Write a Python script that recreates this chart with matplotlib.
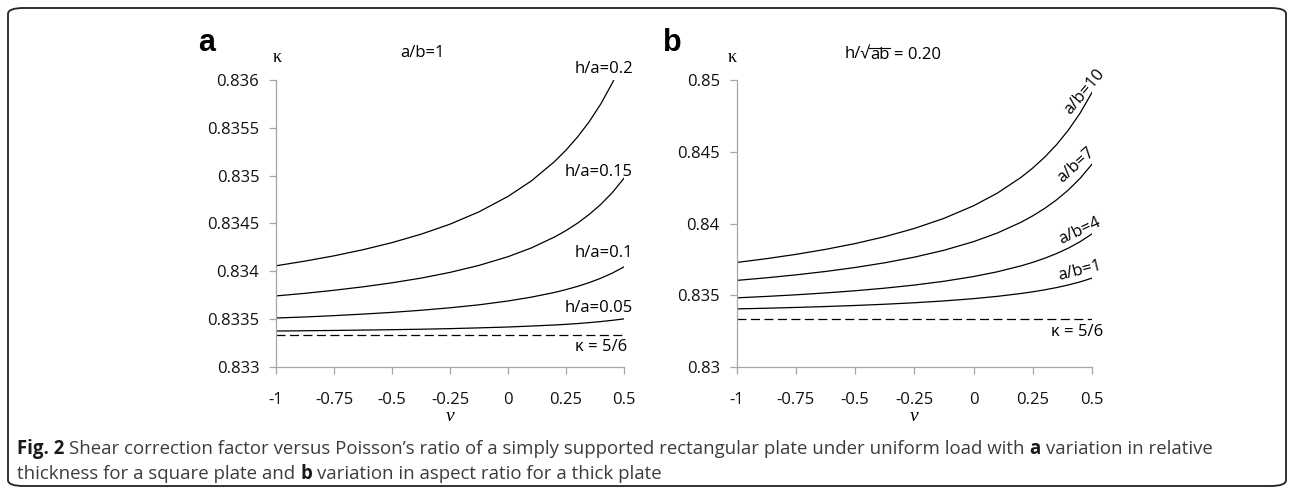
"""Shear correction factor versus Poisson's ratio, two-panel figure (Fig. 2)."""

import matplotlib

matplotlib.use("Agg")
import matplotlib.pyplot as plt
from matplotlib.lines import Line2D
from matplotlib.patches import FancyBboxPatch

plt.rcParams["font.family"] = ["Open Sans", "DejaVu Sans"]
plt.rcParams["lines.scale_dashes"] = False

# Poisson's ratio samples
NU = [-1.0, -0.875, -0.75, -0.625, -0.5, -0.375, -0.25, -0.125, 0.0,
      0.1, 0.2, 0.25, 0.3, 0.35, 0.4, 0.45, 0.5]

# panel a: a/b = 1, varying h/a
HA_LABELS = ["h/a=0.2", "h/a=0.15", "h/a=0.1", "h/a=0.05"]
KAPPA_HA_020 = [0.834058, 0.834107, 0.834162, 0.834226, 0.834300, 0.834388,
                0.834493, 0.834622, 0.834783, 0.834944, 0.835146, 0.835267,
                0.835405, 0.835564, 0.835750, 0.835970, 0.836233]
KAPPA_HA_015 = [0.833743, 0.833770, 0.833802, 0.833838, 0.833880, 0.833929,
                0.833989, 0.834062, 0.834153, 0.834244, 0.834358, 0.834426,
                0.834504, 0.834595, 0.834700, 0.834824, 0.834973]
KAPPA_HA_010 = [0.833512, 0.833523, 0.833537, 0.833553, 0.833571, 0.833593,
                0.833619, 0.833650, 0.833690, 0.833730, 0.833779, 0.833809,
                0.833843, 0.833882, 0.833928, 0.833982, 0.834047]
KAPPA_HA_005 = [0.833376, 0.833379, 0.833382, 0.833386, 0.833390, 0.833395,
                0.833401, 0.833409, 0.833418, 0.833428, 0.833439, 0.833446,
                0.833454, 0.833464, 0.833475, 0.833488, 0.833503]

# panel b: h/sqrt(ab) = 0.20, varying a/b
AB_LABELS = ["a/b=10", "a/b=7", "a/b=4", "a/b=1"]
KAPPA_AB_10 = [0.837283, 0.837546, 0.837847, 0.838195, 0.838600, 0.839078,
               0.839653, 0.840355, 0.841233, 0.842111, 0.843208, 0.843866,
               0.844619, 0.845487, 0.846500, 0.847697, 0.849133]
KAPPA_AB_7 = [0.836033, 0.836213, 0.836419, 0.836656, 0.836933, 0.837260,
              0.837653, 0.838133, 0.838733, 0.839333, 0.840083, 0.840533,
              0.841047, 0.841641, 0.842333, 0.843151, 0.844133]
KAPPA_AB_4 = [0.834818, 0.834917, 0.835030, 0.835161, 0.835313, 0.835493,
              0.835709, 0.835973, 0.836303, 0.836633, 0.837046, 0.837293,
              0.837576, 0.837902, 0.838283, 0.838733, 0.839273]
KAPPA_AB_1 = [0.834048, 0.834096, 0.834150, 0.834213, 0.834286, 0.834373,
              0.834477, 0.834604, 0.834763, 0.834922, 0.835121, 0.835240,
              0.835376, 0.835533, 0.835716, 0.835933, 0.836193]

KAPPA_REF = 5.0 / 6.0

X_TICKS = [-1.0, -0.75, -0.5, -0.25, 0.0, 0.25, 0.5]
X_TICK_LABELS = ["-1", "-0.75", "-0.5", "-0.25", "0", "0.25", "0.5"]
Y_TICKS_A = [0.833, 0.8335, 0.834, 0.8345, 0.835, 0.8355, 0.836]
Y_TICK_LABELS_A = ["0.833", "0.8335", "0.834", "0.8345", "0.835", "0.8355", "0.836"]
Y_TICKS_B = [0.83, 0.835, 0.84, 0.845, 0.85]
Y_TICK_LABELS_B = ["0.83", "0.835", "0.84", "0.845", "0.85"]

CAPTION_1 = [
    ("Fig. 2", "bold"),
    ("Shear correction factor versus Poisson\u2019s ratio of a simply supported "
     "rectangular plate under uniform load with", "normal"),
    ("a", "bold"),
    ("variation in relative", "normal"),
]
CAPTION_2 = [
    ("thickness for a square plate and", "normal"),
    ("b", "bold"),
    ("variation in aspect ratio for a thick plate", "normal"),
]

AXIS_GREY = "#a6a6a6"
LINE_W = 0.9
DASHES = (0, (6.5, 3.2))
W_PX, H_PX = 1292, 494


def style_axes(ax, yticks, ylabels):
    ax.set_xlim(-1.0, 0.5)
    ax.set_xticks(X_TICKS, X_TICK_LABELS)
    ax.set_yticks(yticks, ylabels)
    ax.set_ylim(yticks[0], yticks[-1])
    for side in ("top", "right"):
        ax.spines[side].set_visible(False)
    for side in ("left", "bottom"):
        ax.spines[side].set_color(AXIS_GREY)
        ax.spines[side].set_linewidth(0.9)
    ax.tick_params(axis="both", direction="out", length=5, width=0.9,
                   color=AXIS_GREY, labelsize=12, labelcolor="#111111")
    ax.tick_params(axis="x", pad=13)
    ax.tick_params(axis="y", pad=7)
    ax.text(0.5, -0.171, "\u03bd", transform=ax.transAxes, ha="center",
            va="center", fontsize=14, family="Liberation Serif", style="italic")


def text_width(fig, text, **kw):
    renderer = fig.canvas.get_renderer()
    probe = fig.text(0, 0, text, **kw)
    width = probe.get_window_extent(renderer).width
    probe.remove()
    return width


def space_width(fig, size):
    return text_width(fig, "x x", fontsize=size) - text_width(fig, "xx", fontsize=size)


def draw_runs(fig, x_px, y_frac, runs, size):
    renderer = fig.canvas.get_renderer()
    gap = space_width(fig, size)
    x = x_px
    drawn = []
    for i, (text, weight) in enumerate(runs):
        colour = "#1a1a1a" if weight == "bold" else "#3c3c3c"
        t = fig.text(x / W_PX, y_frac, text, fontsize=size, fontweight=weight,
                     color=colour, ha="left", va="center")
        drawn.append(t)
        x += t.get_window_extent(renderer).width
        if i < len(runs) - 1:
            x += gap
    return x - x_px, drawn


def draw_sqrt_label(fig, cx_px, cy_px, size):
    """Write h/sqrt(ab) = 0.20 with a vinculum over 'ab'."""
    renderer = fig.canvas.get_renderer()
    head, radicand, tail = "h/\u221a", "ab", "= 0.20"
    w_head = text_width(fig, head, fontsize=size)
    w_rad = text_width(fig, radicand, fontsize=size)
    w_tail = text_width(fig, tail, fontsize=size)
    gap = space_width(fig, size)
    x = cx_px - (w_head + w_rad + gap + w_tail) / 2
    y = 1 - cy_px / H_PX
    fig.text(x / W_PX, y, head, fontsize=size, ha="left", va="center")
    x += w_head
    t = fig.text(x / W_PX, y, radicand, fontsize=size, ha="left", va="center")
    bb = t.get_window_extent(renderer)
    top = (bb.y1 - 1.5) / H_PX
    fig.add_artist(Line2D([(x - 1) / W_PX, (x + w_rad) / W_PX], [top, top],
                          transform=fig.transFigure, color="black", lw=0.8))
    x += w_rad + gap
    fig.text(x / W_PX, y, tail, fontsize=size, ha="left", va="center")


fig = plt.figure(figsize=(W_PX / 100, H_PX / 100), dpi=100)

# panel a
ax_a = fig.add_axes([276 / W_PX, 1 - 367 / H_PX, 348 / W_PX, 287 / H_PX])
for series in (KAPPA_HA_020, KAPPA_HA_015, KAPPA_HA_010, KAPPA_HA_005):
    ax_a.plot(NU, series, color="black", lw=LINE_W)
ax_a.plot([NU[0], NU[-1]], [KAPPA_REF, KAPPA_REF], color="black", lw=LINE_W,
          linestyle=DASHES)
style_axes(ax_a, Y_TICKS_A, Y_TICK_LABELS_A)

for label, yf in zip(HA_LABELS, [1.038, 0.680, 0.396, 0.206]):
    ax_a.text(1.026, yf, label, transform=ax_a.transAxes, ha="right",
              va="center", fontsize=12, clip_on=False)
ax_a.text(1.009, 0.071, "\u03ba = 5/6", transform=ax_a.transAxes, ha="right",
          va="center", fontsize=12)
ax_a.text(0.422, 1.094, "a/b=1", transform=ax_a.transAxes, ha="center",
          va="center", fontsize=12)
ax_a.text(0.004, 1.080, "\u03ba", transform=ax_a.transAxes, ha="center",
          va="center", fontsize=13, family="Liberation Serif")
ax_a.text(-0.198, 1.129, "a", transform=ax_a.transAxes, ha="center",
          va="center", fontsize=22, fontweight="bold",
          family="Liberation Sans")

# panel b
ax_b = fig.add_axes([736.5 / W_PX, 1 - 367 / H_PX, 355.5 / W_PX, 287 / H_PX])
for series in (KAPPA_AB_10, KAPPA_AB_7, KAPPA_AB_4, KAPPA_AB_1):
    ax_b.plot(NU, series, color="black", lw=LINE_W)
ax_b.plot([NU[0], NU[-1]], [KAPPA_REF, KAPPA_REF], color="black", lw=LINE_W,
          linestyle=DASHES)
style_axes(ax_b, Y_TICKS_B, Y_TICK_LABELS_B)

for label, xf, yf, rot in zip(AB_LABELS, [0.980, 0.955, 0.966, 0.966],
                              [0.958, 0.704, 0.474, 0.334], [50, 42, 25, 14]):
    ax_b.text(xf, yf, label, transform=ax_b.transAxes, ha="center",
              va="center", fontsize=12, rotation=rot, rotation_mode="anchor")
ax_b.text(1.031, 0.122, "\u03ba = 5/6", transform=ax_b.transAxes, ha="right",
          va="center", fontsize=12)
ax_b.text(-0.011, 1.080, "\u03ba", transform=ax_b.transAxes, ha="center",
          va="center", fontsize=13, family="Liberation Serif")
ax_b.text(-0.181, 1.129, "b", transform=ax_b.transAxes, ha="center",
          va="center", fontsize=22, fontweight="bold",
          family="Liberation Sans")
draw_sqrt_label(fig, 893, 55, 12)

# caption, fitted so the first line spans the measured width
width, drawn = draw_runs(fig, 17, 1 - 449 / H_PX, CAPTION_1, 12)
for t in drawn:
    t.remove()
size = 12 * 1190 / width
draw_runs(fig, 17, 1 - 449 / H_PX, CAPTION_1, size)
draw_runs(fig, 17, 1 - 474 / H_PX, CAPTION_2, size)

# rounded frame around the figure
frame = FancyBboxPatch((8 / W_PX, 8 / H_PX), 1278 / W_PX, 478 / H_PX,
                       boxstyle="round,pad=0,rounding_size=0.012",
                       transform=fig.transFigure, fill=False,
                       edgecolor="#222222", linewidth=1.3)
fig.patches.append(frame)

fig.savefig("out.png", dpi=100)
